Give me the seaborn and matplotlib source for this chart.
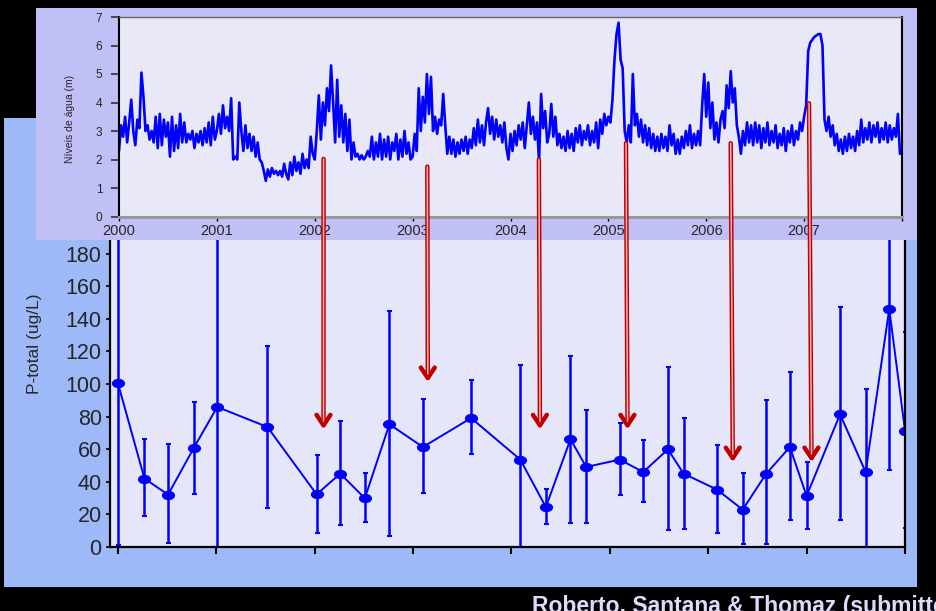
"""
Water level (top) and P-total (bottom) slide, with flood pulses marked by arrows.
"""

import matplotlib.pyplot as plt
import pandas as pd
import seaborn as sns
from matplotlib.markers import MarkerStyle
from matplotlib.patches import ConnectionPatch, Rectangle
from matplotlib.path import Path
from matplotlib.transforms import Affine2D

sns.set_style("white")
plt.rcParams["font.family"] = ["Liberation Sans", "DejaVu Sans"]

# water level (m), 48 readings per year
level_2000 = [2.3, 3.2, 2.8, 3.5, 2.6, 3.3, 4.1, 3.0, 2.5, 3.4, 3.1, 5.05,
              4.2, 3.0, 3.2, 2.7, 3.0, 2.6, 3.5, 2.4, 3.6, 2.5, 3.4, 2.8,
              3.3, 2.1, 3.5, 2.3, 3.2, 2.4, 3.6, 2.6, 3.3, 2.6, 2.9, 2.7,
              3.0, 2.4, 2.9, 2.6, 3.0, 2.5, 3.1, 2.6, 3.3, 2.5, 3.5, 2.7]
level_2001 = [3.0, 3.6, 2.9, 3.9, 3.1, 3.5, 3.0, 4.15, 2.0, 2.1, 2.0, 4.0,
              3.0, 2.3, 3.2, 2.4, 2.9, 2.3, 2.8, 2.1, 2.6, 2.0, 1.9, 1.6,
              1.25, 1.65, 1.4, 1.7, 1.5, 1.6, 1.45, 1.6, 1.4, 1.85, 1.5, 1.3,
              1.9, 1.45, 2.1, 1.6, 1.9, 1.5, 2.2, 1.7, 2.0, 1.7, 2.8, 2.2]
level_2002 = [2.0, 3.0, 4.25, 2.7, 4.0, 3.2, 4.5, 3.7, 5.3, 4.0, 2.6, 4.8,
              2.8, 3.9, 2.6, 3.6, 2.3, 3.4, 2.0, 2.6, 2.1, 2.2, 2.0, 2.15,
              2.0, 2.1, 2.3, 2.1, 2.8, 2.0, 2.6, 2.1, 2.9, 2.0, 2.7, 2.1,
              2.8, 2.0, 2.6, 2.3, 2.9, 2.0, 2.7, 2.1, 3.0, 2.2, 2.6, 2.0]
level_2003 = [2.1, 2.9, 2.3, 4.5, 3.0, 4.2, 3.3, 5.0, 3.6, 4.9, 3.0, 3.5,
              2.9, 3.4, 3.2, 4.3, 3.2, 2.2, 2.8, 2.2, 2.7, 2.1, 2.6, 2.2,
              2.7, 2.3, 2.8, 2.2, 2.7, 2.4, 3.1, 2.5, 3.4, 2.6, 3.2, 2.5,
              3.3, 3.8, 2.9, 3.5, 2.7, 3.4, 2.8, 3.2, 2.6, 3.3, 2.4, 2.0]
level_2004 = [2.9, 2.3, 3.0, 2.5, 3.2, 2.7, 3.3, 2.4, 3.2, 4.0, 2.9, 3.5,
              2.7, 3.3, 1.9, 4.3, 3.1, 3.7, 2.6, 2.9, 3.95, 2.8, 3.5, 2.5,
              2.9, 2.4, 2.8, 2.3, 3.0, 2.4, 2.9, 2.3, 3.1, 2.6, 3.2, 2.5,
              3.0, 2.7, 3.2, 2.5, 3.0, 2.6, 3.3, 2.4, 3.4, 2.9, 3.6, 3.2]
level_2005 = [3.5, 3.3, 4.1, 5.5, 6.4, 6.8, 5.5, 5.2, 3.0, 2.6, 3.2, 2.6,
              5.0, 3.2, 3.6, 2.8, 3.4, 2.6, 3.2, 2.5, 3.1, 2.4, 2.9, 2.3,
              2.8, 2.3, 2.9, 2.4, 2.8, 2.3, 3.2, 2.5, 2.9, 2.2, 2.7, 2.2,
              2.8, 2.4, 3.0, 2.5, 3.2, 2.4, 2.9, 2.5, 3.0, 2.5, 3.9, 5.0]
level_2006 = [3.5, 4.7, 3.1, 4.0, 2.7, 3.3, 2.6, 3.4, 3.7, 3.1, 4.6, 3.8,
              5.1, 4.0, 4.5, 3.2, 2.8, 2.2, 3.0, 2.5, 3.3, 2.6, 3.2, 2.5,
              3.3, 2.6, 3.2, 2.4, 3.1, 2.6, 3.3, 2.5, 3.0, 2.6, 3.2, 2.4,
              2.9, 2.5, 3.1, 2.3, 3.0, 2.6, 3.2, 2.5, 3.0, 2.7, 3.3, 3.0]
level_2007 = [3.5, 3.9, 5.8, 6.1, 6.2, 6.3, 6.35, 6.4, 6.4, 6.0, 3.4, 3.0,
              3.5, 2.8, 3.2, 2.5, 2.9, 2.3, 2.7, 2.2, 2.8, 2.3, 2.9, 2.4,
              2.8, 2.3, 3.0, 2.5, 3.4, 2.6, 3.1, 2.7, 3.3, 2.6, 3.2, 2.8,
              3.3, 2.6, 3.1, 2.7, 3.3, 2.6, 3.2, 2.7, 3.1, 2.8, 3.6, 2.2]
level_years = [2000, 2001, 2002, 2003, 2004, 2005, 2006, 2007]
level_by_year = [level_2000, level_2001, level_2002, level_2003,
                 level_2004, level_2005, level_2006, level_2007]

# P-total sampling (decimal year, mean, lower and upper end of the bar)
sample_time = [2000.00, 2000.27, 2000.51, 2000.77, 2001.01, 2001.52, 2002.02,
               2002.26, 2002.51, 2002.76, 2003.10, 2003.59, 2004.09, 2004.35,
               2004.60, 2004.76, 2005.10, 2005.34, 2005.59, 2005.75, 2006.09,
               2006.35, 2006.59, 2006.83, 2007.00, 2007.34, 2007.60, 2007.84,
               2008.00]
p_total = [100.6, 42.0, 32.1, 60.6, 85.9, 73.6, 32.3, 45.0, 29.9, 75.3, 61.3,
           79.1, 53.6, 24.5, 66.1, 49.1, 53.6, 46.0, 59.9, 45.0, 35.2, 22.9,
           45.0, 61.3, 31.3, 81.4, 46.0, 146.0, 71.4]
p_low = [1.0, 18.8, 2.5, 32.8, 0.0, 24.2, 8.6, 13.3, 15.3, 6.6, 33.1, 57.1,
         0.0, 13.9, 14.7, 14.7, 31.7, 27.9, 10.2, 11.0, 8.6, 1.7, 1.7, 16.4,
         10.9, 16.4, 0.0, 47.1, 11.9]
p_high = [240.0, 66.5, 63.4, 88.8, 220.0, 123.3, 56.3, 77.3, 45.6, 145.0,
          91.0, 102.7, 111.7, 35.8, 117.2, 83.9, 76.3, 65.5, 110.1, 79.4,
          62.4, 45.4, 90.0, 107.2, 52.4, 147.2, 96.9, 230.0, 131.9]

# flood pulses: arrow leaves the level plot and lands on the P-total plot
pulse_time = [2002.09, 2003.15, 2004.29, 2005.18, 2006.25, 2007.05]
pulse_level = [2.02, 1.75, 2.0, 2.57, 2.57, 3.97]
pulse_p = [72.2, 101.2, 72.2, 72.2, 52.1, 52.1]

W, H = 936, 611


def box(x0, y0, x1, y1):
    # pixel box (top-left origin) -> figure fraction rect
    return [x0 / W, 1 - y1 / H, (x1 - x0) / W, (y1 - y0) / H]


water = pd.DataFrame({
    "time": [yr + i / 48 for yr, vals in zip(level_years, level_by_year)
             for i in range(len(vals))],
    "level": [v for vals in level_by_year for v in vals],
})

fig = plt.figure(figsize=(W / 100, H / 100), dpi=100, facecolor="black")

# slide panels
lo = box(4, 118, 917, 587)
fig.add_artist(Rectangle((lo[0], lo[1]), lo[2], lo[3], transform=fig.transFigure,
                         facecolor="#9db9f8", edgecolor="none", zorder=0.5))
hi = box(36, 8, 917, 240)
fig.add_artist(Rectangle((hi[0], hi[1]), hi[2], hi[3], transform=fig.transFigure,
                         facecolor="#c0c0f6", edgecolor="none", zorder=2))

# --------------------------------
# P-total
ax_p = fig.add_axes(box(110, 210, 905, 547), zorder=1)
ax_p.set_facecolor("#e6e6fa")

ax_p.errorbar(sample_time, p_total,
              yerr=[[m - l for m, l in zip(p_total, p_low)],
                    [h - m for m, h in zip(p_total, p_high)]],
              fmt="none", ecolor="#0000ff", elinewidth=1.8,
              capsize=1.8, capthick=1.5)

oval = MarkerStyle(Path.unit_circle().transformed(Affine2D().scale(1.4, 1.0)))
sns.lineplot(x=sample_time, y=p_total, ax=ax_p, color="#0000ff", lw=1.4,
             marker=oval, markersize=9.5, markerfacecolor="#0000ff",
             markeredgecolor="#0000ff", markeredgewidth=0)

ax_p.set_xlim(1999.92, 2008.0)
ax_p.set_ylim(0, 206.7)
ax_p.set_xticks(range(2000, 2009))
ax_p.set_yticks(range(0, 181, 20))
ax_p.tick_params(axis="x", bottom=True, direction="out", length=5, width=1.5,
                 color="black", labelbottom=False)
ax_p.tick_params(axis="y", left=True, direction="out", length=3, width=1.2,
                 color="black", labelsize=15.5, pad=3)
ax_p.spines["top"].set_visible(False)
for side in ["left", "bottom", "right"]:
    ax_p.spines[side].set_color("black")
    ax_p.spines[side].set_linewidth(1.6)
ax_p.set_xlabel("")
ax_p.set_ylabel("P-total (ug/L)", fontsize=12.5)
ax_p.yaxis.set_label_coords(-0.0855, 0.604)

# --------------------------------
# water level
ax_w = fig.add_axes(box(119, 17, 902, 216.5), zorder=3)
ax_w.set_facecolor("#e8e8f8")

sns.lineplot(data=water, x="time", y="level", ax=ax_w, color="#0000ff", lw=1.9)

ax_w.set_xlim(2000, 2008)
ax_w.set_ylim(0, 7)
ax_w.set_xticks(range(2000, 2009))
ax_w.set_xticklabels([str(y) for y in range(2000, 2008)] + [""])
ax_w.set_yticks(range(0, 8))
ax_w.tick_params(axis="x", bottom=True, direction="out", length=3, width=1,
                 color="black", labelsize=10.5, pad=2.5)
ax_w.tick_params(axis="y", left=True, direction="out", length=6, width=1.2,
                 color="#333333", labelsize=8.5, pad=6)
ax_w.spines["left"].set_color("black")
ax_w.spines["left"].set_linewidth(1.5)
ax_w.spines["right"].set_color("black")
ax_w.spines["right"].set_linewidth(1.5)
ax_w.spines["bottom"].set_color("#999999")
ax_w.spines["bottom"].set_linewidth(2.2)
ax_w.spines["top"].set_color("#666666")
ax_w.spines["top"].set_linewidth(1)
ax_w.set_xlabel("")
ax_w.set_ylabel("Níveis de água (m)", fontsize=7.5)
ax_w.yaxis.set_label_coords(-0.056, 0.49)

# --------------------------------
# arrows from the level peaks down to the P-total series
for t, lv, p in zip(pulse_time, pulse_level, pulse_p):
    shaft = ConnectionPatch(xyA=(t, lv), coordsA="data", axesA=ax_w,
                            xyB=(t, p), coordsB="data", axesB=ax_p,
                            arrowstyle="->,head_length=0.75,head_width=0.5",
                            mutation_scale=10, color="#c00000", lw=3.2, zorder=4)
    fig.add_artist(shaft)
    core = ConnectionPatch(xyA=(t, lv), coordsA="data", axesA=ax_w,
                           xyB=(t, p + 5), coordsB="data", axesB=ax_p,
                           arrowstyle="-", color="#f0b4b4", lw=1.1, zorder=4.1)
    fig.add_artist(core)

# credit line, cut by the slide edge as in the original
fig.text(532 / W, -2 / H, "Roberto, Santana & Thomaz (submitted)",
         color="#dcdcfa", fontsize=16.5, fontweight="bold",
         ha="left", va="baseline", zorder=5)

fig.savefig("out.png", dpi=100, facecolor="black")
